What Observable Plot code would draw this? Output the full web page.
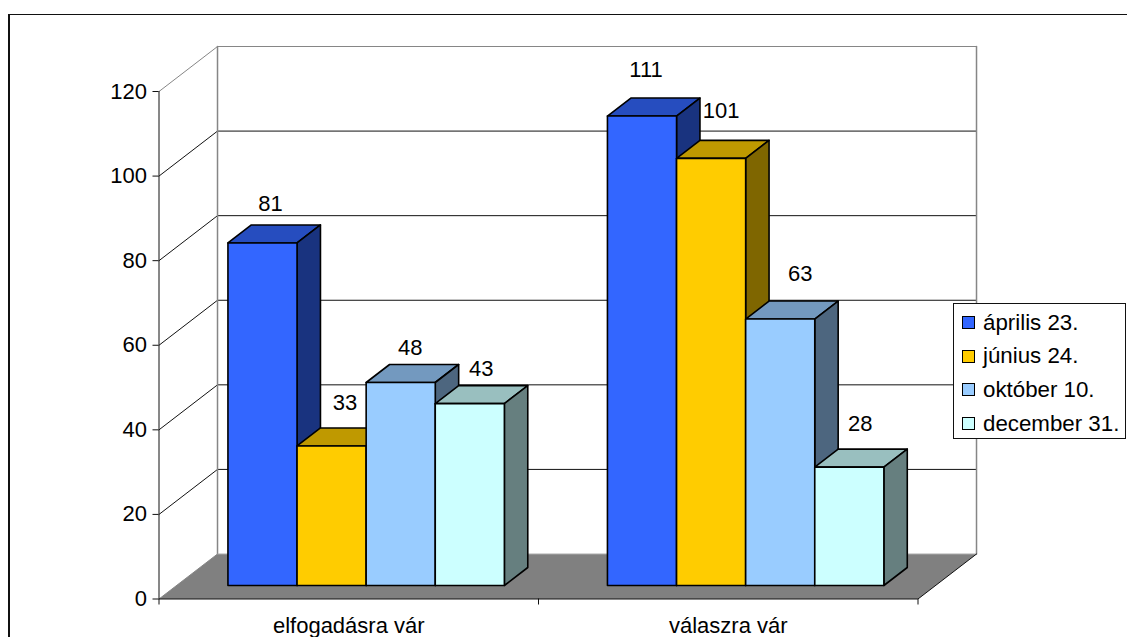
<!DOCTYPE html>
<html lang="hu">
<head>
<meta charset="utf-8">
<script src="https://cdn.jsdelivr.net/npm/d3@7"></script>
<script src="https://cdn.jsdelivr.net/npm/@observablehq/plot@0.6"></script>
<style>
html,body{margin:0;padding:0;background:#fff;width:1127px;height:637px;overflow:hidden;font-family:"Liberation Sans",Arial,sans-serif;color:#000}
#chart{position:absolute;left:0;top:0}
#frame{position:absolute;left:8px;top:14px;width:1200px;height:700px;border-left:2px solid #111;border-top:1px solid #111}
#legend{position:absolute;left:953px;top:303px;width:171px;height:134px;background:#fff;border:1px solid #111;font-size:22.3px}
#legend div{position:absolute;left:8px;display:flex;align-items:center;height:24px;white-space:nowrap}
#legend i{display:block;width:11px;height:11px;border:1px solid #000;margin-right:8px}
</style>
</head>
<body>
<div id="frame"></div>
<div id="chart"></div>
<div id="legend"></div>
<script>
const categories = ["elfogadásra vár", "válaszra vár"];
const seriesNames = ["április 23.", "június 24.", "október 10.", "december 31."];
const april = [81, 111];
const june = [33, 101];
const october = [48, 63];
const december = [43, 28];
const yTicks = [0, 20, 40, 60, 80, 100, 120];

const frontColors = ["#3366FF", "#FFCC00", "#99CCFF", "#CCFFFF"];
const topColors = ["#264DBF", "#BF9900", "#7399BF", "#99BFBF"];
const sideColors = ["#19337F", "#7F6600", "#4D667F", "#667F7F"];
const floorColor = "#808080";
const wallColor = "#868686";
const fontSize = 22;

// pixel nudges of the value labels, by group then by series
const labelDx = [[8, 13.5, 9.5, 11.5], [4, 10, 20, 11]];
const labelDy = [[-38.5, -42.5, -34.5, -34.5], [-46.5, -47.5, -45.5, -43.5]];

const values = [april, june, october, december];

// Oblique projection: a depth z of 0..1 shifts a point along the side walls.
const depthX = 0.1542;   // categories
const depthY = 10.64;    // value units
const P = (c, v, z = 0) => ({x: c + z * depthX, y: v + z * depthY});
const ring = pts => [...pts, pts[0]];

const barFront = 0.3, barBack = 0.7;
const barW = 0.1821;
const barGap = (1 - 4 * barW) / 2 - 0.0004;

const face = (pts, fill, stroke = "#000", strokeWidth = 1.6) =>
  Plot.line(ring(pts), {x: "x", y: "y", fill, stroke, strokeWidth});
const path = (pts, stroke, strokeWidth = 1) =>
  Plot.line(pts, {x: "x", y: "y", stroke, strokeWidth});

const marks = [];

// floor
marks.push(face([P(0, 0, 0), P(0, 0, 1), P(2, 0, 1), P(2, 0, 0)], floorColor, "none"));

// gridlines on the back and left walls
for (const t of yTicks) {
  if (t === 0) continue;
  const col = t === 120 ? wallColor : "#111";
  marks.push(path([P(0, t, 0), P(0, t, 1), P(2, t, 1)], col, 1));
}
marks.push(path([P(0, 0, 1), P(0, 120, 1)], wallColor, 1.5));
marks.push(path([P(2, 0, 1), P(2, 120, 1)], wallColor, 1.5));
marks.push(path([P(0, 0, 1), P(2, 0, 1)], "#aaa", 1));
marks.push(path([P(0, 0, 0), P(0, 0, 1)], wallColor, 1));
marks.push(path([P(2, 0, 0), P(2, 0, 1)], "#111", 1));

// bars, painted left to right
categories.forEach((_, g) => {
  values.forEach((series, s) => {
    const v = series[g];
    const x0 = g + barGap + s * barW, x1 = x0 + barW;
    const a = P(x0, 0, barFront), b = P(x1, 0, barFront);
    const c = P(x1, v, barFront), d = P(x0, v, barFront);
    const e = P(x0, v, barBack), f = P(x1, v, barBack), h = P(x1, 0, barBack);
    marks.push(face([d, e, f, c], topColors[s]));
    marks.push(face([b, c, f, h], sideColors[s]));
    marks.push(face([a, b, c, d], frontColors[s]));
  });
});

// value labels
categories.forEach((_, g) => {
  values.forEach((series, s) => {
    const v = series[g];
    const p = P(g + barGap + (s + 0.5) * barW, v, barFront);
    marks.push(Plot.text([{...p, t: String(v)}], {
      x: "x", y: "y", text: "t", dx: labelDx[g][s], dy: labelDy[g][s],
      fontSize, fill: "#000"
    }));
  });
});

// axes
marks.push(Plot.axisY({ticks: yTicks, tickSize: 6, tickPadding: 6, fontSize, label: null, stroke: "#111"}));
marks.push(Plot.axisX({ticks: [0, 1, 2], tickSize: 6, tickFormat: () => "", label: null, stroke: "#111"}));
marks.push(Plot.axisX({ticks: [0.5, 1.5], tickSize: 0, tickPadding: 18, fontSize, label: null,
  tickFormat: d => categories[Math.floor(d)]}));
marks.push(Plot.ruleX([0], {stroke: "#111", strokeWidth: 1}));
marks.push(Plot.ruleY([0], {stroke: "#111", strokeWidth: 1}));

const chart = Plot.plot({
  width: 1127, height: 637,
  marginLeft: 158.5, marginRight: 209.5, marginTop: 91, marginBottom: 38.5,
  x: {type: "linear", domain: [0, 2]},
  y: {type: "linear", domain: [0, 120]},
  style: {fontFamily: '"Liberation Sans", Arial, sans-serif', background: "transparent", overflow: "visible"},
  marks
});
document.getElementById("chart").append(chart);

const legend = document.getElementById("legend");
seriesNames.forEach((name, i) => {
  const row = document.createElement("div");
  row.style.top = (6.5 + i * 33.7) + "px";
  const sw = document.createElement("i");
  sw.style.background = frontColors[i];
  row.append(sw, document.createTextNode(name));
  legend.append(row);
});
</script>
</body>
</html>
